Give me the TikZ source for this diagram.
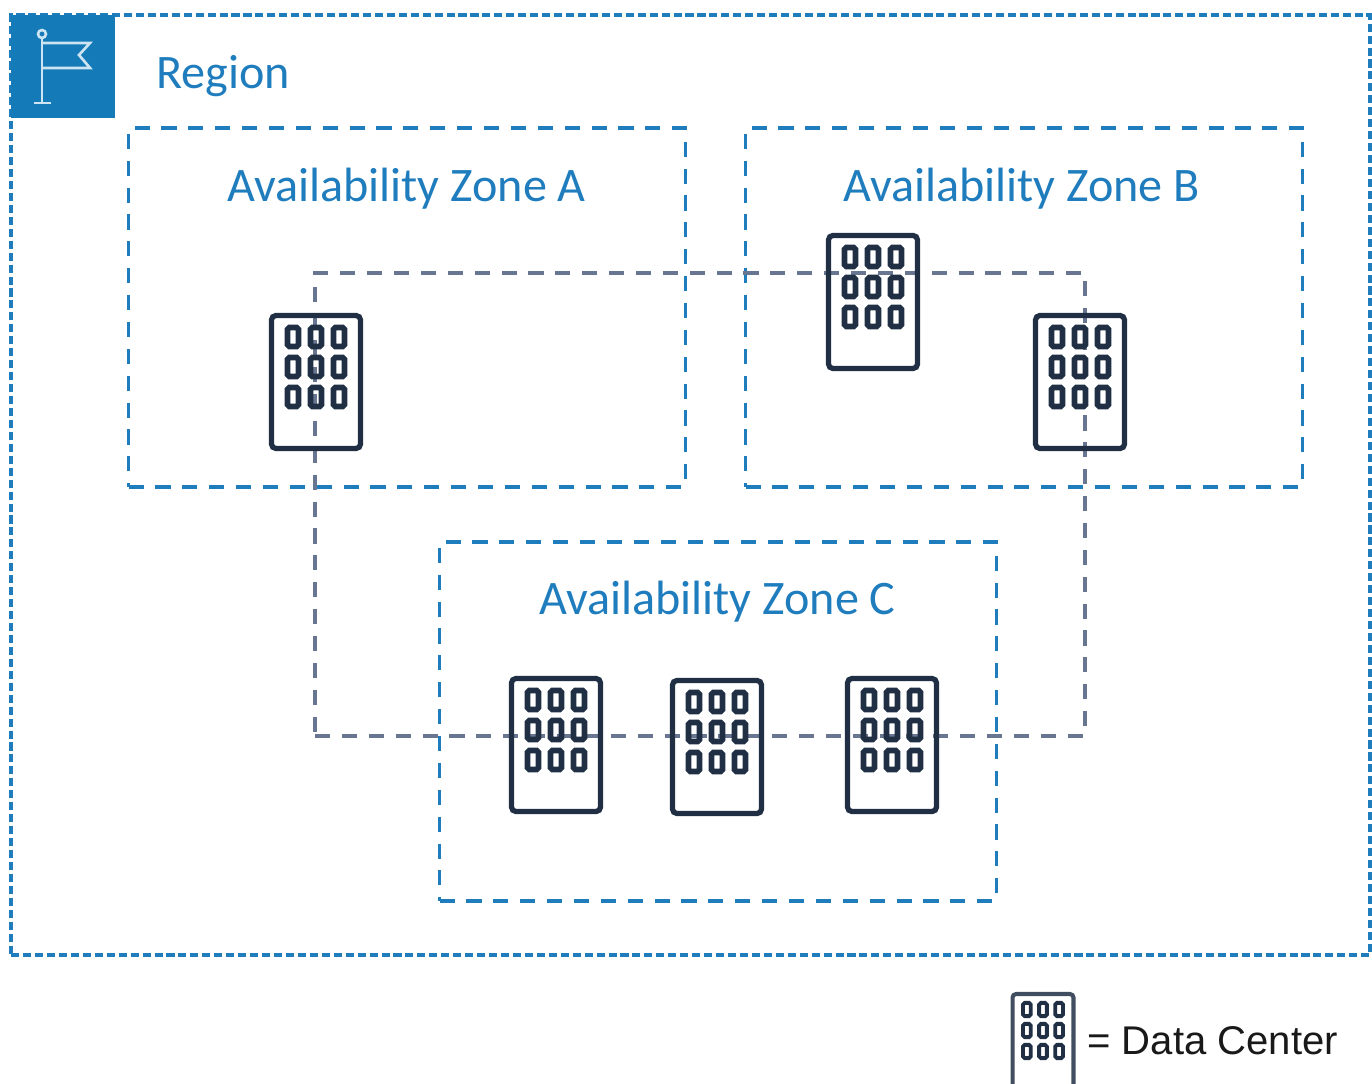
\documentclass[tikz,border=0pt]{standalone}
\usepackage{fontspec}
\setmainfont{Carlito}
\newfontfamily\legendfont{Liberation Sans}
\usetikzlibrary{positioning}
\definecolor{regioncol}{RGB}{31,125,190}
\definecolor{flagcol}{RGB}{20,122,184}
\definecolor{flaglinecol}{RGB}{205,228,243}
\definecolor{meshcol}{RGB}{104,118,146}
\definecolor{buildingcol}{RGB}{32,47,68}

\begin{document}
\begin{tikzpicture}[
			x=0.02cm,
			y=-0.02cm,
			region/.style={
				draw=regioncol,
				line width=1.9pt,
				dash pattern=on 4.6pt off 2.2pt,
				minimum width=27.18cm,
				minimum height=18.8cm
			},
			zone/.style={
				draw=regioncol,
				line width=2pt,
				dash pattern=on 8.6pt off 6.7pt,
				minimum width=11.14cm,
				minimum height=7.18cm
			},
			mesh/.style={
				draw=meshcol,
				line width=1.8pt,
				dash pattern=on 8.6pt off 6.7pt,
				minimum width=15.4cm,
				minimum height=9.26cm
			},
			building/.style={
				draw=buildingcol,
				line width=3pt,
				rounded corners=2.5pt,
				minimum width=1.78cm,
				minimum height=2.66cm
			},
			smallbuilding/.style={
				draw=buildingcol!85!white,
				line width=2.3pt,
				rounded corners=2pt,
				minimum width=1.22cm,
				minimum height=1.88cm
			},
			title/.style={
				text=regioncol,
				font=\fontsize{27.4}{32}\selectfont
			},
			pics/windows/.style={
				code={
					\foreach \row in {-45,-15,15}
					\foreach \col in {-23,0,23}
					\draw[draw=buildingcol, line width=#1, rounded corners=1pt]
					(\col-5.5,\row-9.5) rectangle (\col+5.5,\row+9.5);
				}
			}
			]
			\clip (0,0) rectangle (1372,1084);
			\useasboundingbox (0,0) rectangle (1372,1084);
			
			% Region
			\node[region] (region) at (690.5,485) {};
			\node[fill=flagcol, minimum width=2.08cm, minimum height=2.06cm, inner sep=0pt] (flagbox) at (63,66.5) {};
			\node[title, anchor=west, inner sep=0pt] (regionlabel) at (156,76) {Region};
			
			% Flag
			\draw[draw=flaglinecol, line width=1.5pt] (42,34) circle (4);
			\draw[draw=flaglinecol, line width=1.5pt] (42,38) -- (42,103) (34,103) -- (51,103);
			\draw[draw=flaglinecol, line width=1.5pt] (42,43) -- (90,43) -- (79,55) -- (90,68) -- (42,68);
			
			% Zones
			\node[zone] (zonea) at (407,307.5) {};
			\node[zone] (zoneb) at (1024,307.5) {};
			\node[zone] (zonec) at (718,721.5) {};
			\node[title] (zonealabel) at (406.5,189) {Availability Zone A};
			\node[title] (zoneblabel) at (1021.5,189) {Availability Zone B};
			\node[title] (zoneclabel) at (717.5,602) {Availability Zone C};
			
			% Data centers
			\node[mesh] (mesh) at (700,504.5) {};
			\foreach \name/\xpos/\ypos in {dca/316/382, dcb/873/302, dcc/1080/382, dcd/556/745, dce/717/747, dcf/892/745}{
				\node[building] (\name) at (\xpos,\ypos) {};
				\pic at (\xpos,\ypos) {windows=3.2pt};
			}
			
			% Legend
			\node[smallbuilding] (legendicon) at (1043,1041) {};
			\pic[scale=0.7] at (1043,1041) {windows=2.2pt};
			\node[anchor=west, inner sep=0pt, text=black!90, font=\legendfont\fontsize{22.8}{27}\selectfont] (legendlabel) at (1087,1041) {= Data Center};
		\end{tikzpicture}
\end{document}
